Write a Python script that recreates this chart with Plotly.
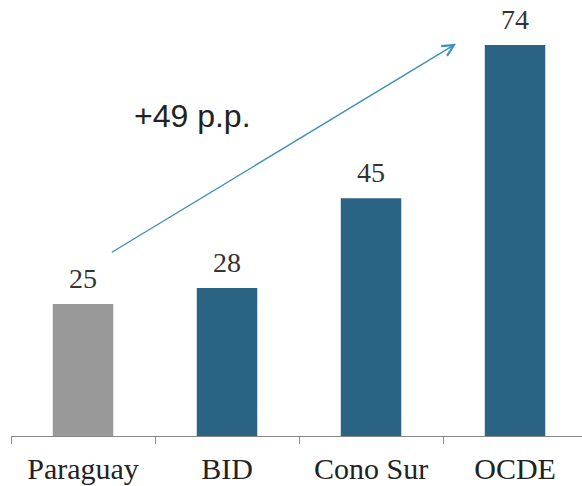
import plotly.graph_objects as go

categories = ["Paraguay", "BID", "Cono Sur", "OCDE"]
values = [25, 28, 45, 74]
bar_colors = ["#999999", "#2b6385", "#2b6385", "#2b6385"]
delta_label = "+49 p.p."

fig = go.Figure()
fig.add_trace(go.Bar(
    x=categories, y=values, marker=dict(color=bar_colors, line=dict(width=0)),
    width=0.42, hoverinfo="skip",
))

for c, v in zip(categories, values):
    fig.add_annotation(x=c, y=v, text=str(v), showarrow=False, yanchor="bottom",
                       yshift=9, borderpad=0,
                       font=dict(family="Liberation Serif", size=28, color="#333333"))

# arrow from Paraguay to OCDE
fig.add_annotation(x=2.59, y=74.2, ax=0.19, ay=34.6, axref="x", ayref="y", xref="x", yref="y",
                   text="", showarrow=True, arrowhead=5, arrowsize=1.6, arrowwidth=1.4,
                   arrowcolor="#3f8fbf", standoff=0, startstandoff=0)
fig.add_annotation(x=0.76, y=60.6, text=delta_label, showarrow=False,
                   font=dict(family="Liberation Sans", size=32, color="#222222"))

fig.update_layout(
    width=582, height=486, margin=dict(l=11, r=0, t=0, b=50),
    plot_bgcolor="white", paper_bgcolor="white", showlegend=False,
    xaxis=dict(range=[-0.5, 3.465], showline=True, linecolor="#888888", linewidth=1,
               ticks="outside", tickson="boundaries", ticklen=7, tickcolor="#888888",
               ticklabelstandoff=6,
               tickfont=dict(family="Liberation Serif", size=30, color="#222222"),
               showgrid=False, zeroline=False),
    yaxis=dict(range=[0, 82.5], visible=False, showgrid=False, zeroline=False),
)
fig.write_html("out.html", config={"displayModeBar": False, "staticPlot": True},
               post_script="document.body.style.margin='0';")
